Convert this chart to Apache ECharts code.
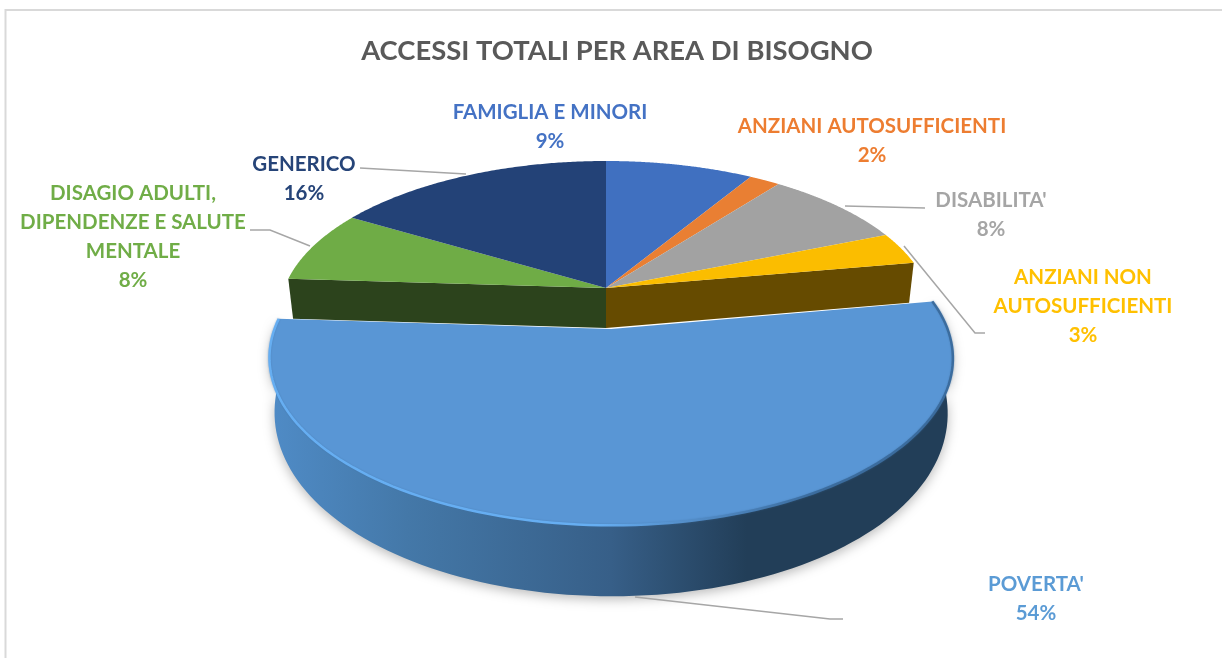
<!DOCTYPE html>
<html><head><meta charset="utf-8">
<style>html,body{margin:0;padding:0;background:#fff}#c{width:1222px;height:658px}</style>
<script src="https://cdn.jsdelivr.net/npm/echarts@6/dist/echarts.min.js"></script>
</head><body><div id="c"></div>
<script>
const titleText = 'ACCESSI TOTALI PER AREA DI BISOGNO';
const categories = ['FAMIGLIA E MINORI','ANZIANI AUTOSUFFICIENTI',"DISABILITA'",'ANZIANI NON\nAUTOSUFFICIENTI',"POVERTA'",'DISAGIO ADULTI,\nDIPENDENZE E SALUTE\nMENTALE','GENERICO'];
const values = [8.6,1.8,8.4,3.4,53.8,7.6,16.4];
const topColors = ['#4070C0','#E97F33','#A2A2A2','#FBBD00','#5996D5','#6FAC46','#234277'];
const labelColors = ['#4472C4','#ED7D31','#A5A5A5','#FFC000','#5B9BD5','#70AD47','#264478'];
const labelPos = [[550,112],[872,126],[991,200],[1083,277],[1036,584],[133,193],[304,164]];
const leaders = [null,null,[[845,206],[925,208]],[[904,246],[975,333],[985,333]],[[635,597],[830,619],[843,619]],[[250,230],[270,230],[310,246]],[[360,168],[466,174]]];

const CX=606, CY=288, F=1930, G=889, D=6, EXPLODED=4, EXPLODE=0.2645;
const total = values.reduce((a,b)=>a+b,0);
const starts=[]; values.reduce((s,v,i)=>{starts[i]=s;return s+v;},0);
const ang = p => p/total*2*Math.PI;
function offset(i){
  if(i!==EXPLODED) return [0,0];
  const m = ang(starts[i]+values[i]/2);
  return [Math.sin(m)*EXPLODE, Math.cos(m)*EXPLODE];
}
function proj(X,Z,low){
  const x = F*X/(D+Z), y = G*Z/(D+Z);
  const depth = low ? 40+Math.pow(Math.max(0,-Z),0.7)*26.3 : 0;
  return [CX+x*(low?0.985:1), CY-y+depth];
}
function arc(a0,a1,o,low){
  const pts=[], n=120;
  for(let k=0;k<=n;k++){
    const t=a0+(a1-a0)*k/n;
    pts.push(proj(Math.sin(t)+o[0],Math.cos(t)+o[1],low));
  }
  return pts;
}
const hGrad = stops => ({type:'linear',x:272,y:0,x2:950,y2:0,global:true,colorStops:stops});
function renderItem(params, api){
  const i=params.dataIndex, a0=ang(starts[i]), a1=ang(starts[i]+api.value(0)), o=offset(i);
  const apex=proj(o[0],o[1],false), apexLow=proj(o[0],o[1],true);
  const top=arc(a0,a1,o,false);
  const children=[];
  const z = i===EXPLODED ? 20 : 5;
  if(i===EXPLODED){
    const low=arc(a0,a1,o,true).reverse();
    children.push({type:'polygon',z2:z,shape:{points:top.concat(low)},style:{
      fill:hGrad([{offset:0,color:'#4F8BC6'},{offset:.2,color:'#4478A8'},{offset:.5,color:'#375F88'},{offset:.7,color:'#223E58'},{offset:1,color:'#223E58'}]),
      shadowColor:'rgba(0,0,0,0.28)',shadowBlur:12,shadowOffsetY:3}});
    children.push({type:'polygon',z2:z+1,shape:{points:[apex].concat(top)},style:{fill:topColors[i]}});
    children.push({type:'polyline',z2:z+2,shape:{points:top},style:{fill:'none',lineWidth:2.5,
      shadowBlur:2,shadowColor:'rgba(60,110,160,0.5)',
      stroke:hGrad([{offset:0,color:'#66AEF2'},{offset:.48,color:'#66AEF2'},{offset:.6,color:'#5590CC'},{offset:.8,color:'#3B6C9E'},{offset:1,color:'#3B6C9E'}])}});
  } else {
    if(i===3){
      const e=top[top.length-1], el=proj(Math.sin(a1),Math.cos(a1),true);
      children.push({type:'polygon',z2:3,shape:{points:[apex,e,el,apexLow]},style:{fill:'#664B00'}});
    }
    if(i===5){
      const e=top[0], el=proj(Math.sin(a0),Math.cos(a0),true);
      children.push({type:'polygon',z2:3,shape:{points:[apex,e,el,apexLow]},style:{fill:'#2C431C'}});
    }
    children.push({type:'polygon',z2:z,shape:{points:[apex].concat(top)},style:{fill:topColors[i]}});
  }
  const lp=labelPos[i], lines=categories[i].split('\n');
  lines.push(Math.round(api.value(0)/total*100)+'%');
  lines.forEach((t,k)=>children.push({type:'text',z2:30,style:{x:lp[0],y:lp[1]+k*29,text:t,fill:labelColors[i],
    font:'bold 20.5px Lato',align:'center',verticalAlign:'middle'}}));
  if(leaders[i]) children.push({type:'polyline',z2:1+(i===4?25:0),shape:{points:leaders[i]},style:{fill:'none',stroke:'#A6A6A6',lineWidth:1.5}});
  return {type:'group',children};
}
const chart=echarts.init(document.getElementById('c'),null,{renderer:'canvas'});
chart.setOption({
  animation:false,backgroundColor:'#fff',
  title:{text:titleText,left:612,top:33,textAlign:'center',textStyle:{fontFamily:'Lato',fontWeight:'bold',fontSize:27.4,color:'#595959'}},
  graphic:[
    {type:'line',shape:{x1:5.5,y1:9,x2:5.5,y2:658},style:{stroke:'#D9D9D9',lineWidth:2}},
    {type:'line',shape:{x1:5,y1:10,x2:1222,y2:10},style:{stroke:'#D9D9D9',lineWidth:2}}
  ],
  series:[{type:'custom',coordinateSystem:'none',renderItem,silent:true,
    data:values.map((v,i)=>({name:categories[i],value:[v]})),encode:{value:0}}]
});
</script></body></html>
